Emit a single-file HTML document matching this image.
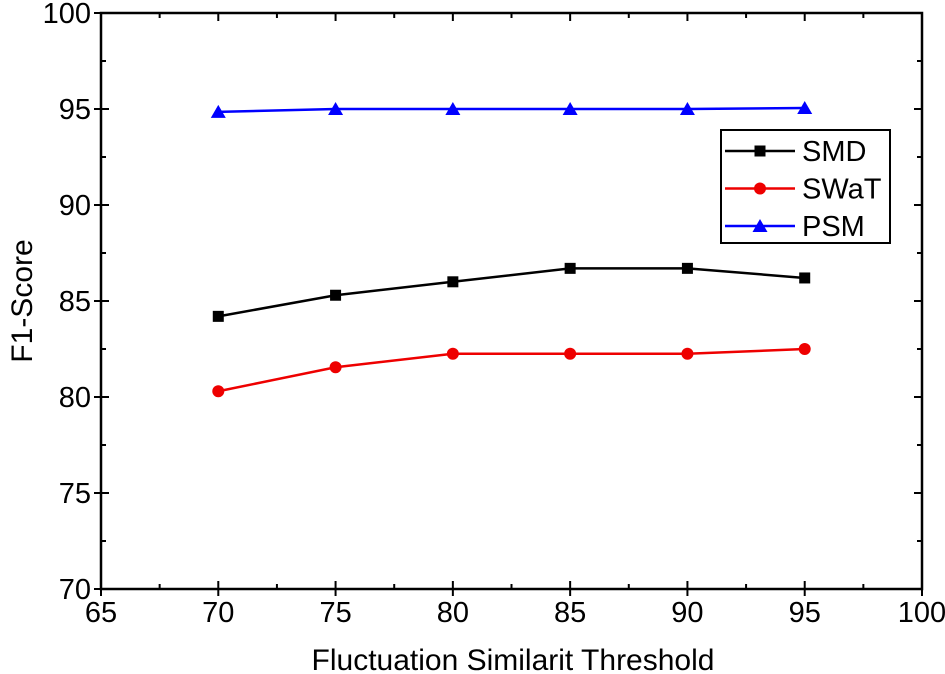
<!DOCTYPE html>
<html><head><meta charset="utf-8"><style>
body{margin:0;background:#fff}
svg{display:block;font-family:"Liberation Sans",Arial,sans-serif}
</style></head><body>
<svg id="chart" width="945" height="674" viewBox="0 0 945 674" xmlns="http://www.w3.org/2000/svg"></svg>
<script>
const categories=[70,75,80,85,90,95];
const smd=[84.2,85.3,86.0,86.7,86.7,86.2];
const swat=[80.3,81.55,82.25,82.25,82.25,82.5];
const psm=[94.85,95.0,95.0,95.0,95.0,95.05];
const xTicks=[65,70,75,80,85,90,95,100];
const yTicks=[70,75,80,85,90,95,100];
const L=101,R=922,T=13,B=589;
const xs=v=>L+(v-65)/35*(R-L);
const ys=v=>B-(v-70)/30*(B-T);
const svg=document.getElementById('chart');
const NS='http://www.w3.org/2000/svg';
function mk(tag,attrs,parent){const e=document.createElementNS(NS,tag);for(const k in attrs)e.setAttribute(k,attrs[k]);(parent||svg).appendChild(e);return e;}
let g=mk('g',{});


xTicks.forEach((v,i)=>{
  const x=xs(v);
  mk('line',{x1:x,x2:x,y1:B-8,y2:B+7,stroke:'#000','stroke-width':2},g);
  mk('line',{x1:x,x2:x,y1:T,y2:T+8,stroke:'#000','stroke-width':2},g);
  if(i<xTicks.length-1){const xm=xs(v+2.5);
    mk('line',{x1:xm,x2:xm,y1:B-5,y2:B,stroke:'#000','stroke-width':2},g);
    mk('line',{x1:xm,x2:xm,y1:T,y2:T+5,stroke:'#000','stroke-width':2},g);}
  const t=mk('text',{x:x,y:B+33,'font-size':29,'text-anchor':'middle',fill:'#000'},g);
  t.textContent=v;
  
  
});
yTicks.forEach((v,i)=>{
  const y=ys(v);
  mk('line',{x1:L-7,x2:L+8,y1:y,y2:y,stroke:'#000','stroke-width':2},g);
  mk('line',{x1:R-8,x2:R,y1:y,y2:y,stroke:'#000','stroke-width':2},g);
  if(i<yTicks.length-1){const ym=ys(v+2.5);
    mk('line',{x1:L,x2:L+5,y1:ym,y2:ym,stroke:'#000','stroke-width':2},g);
    mk('line',{x1:R-5,x2:R,y1:ym,y2:ym,stroke:'#000','stroke-width':2},g);}
  const t=mk('text',{x:L-10,y:y+10,'font-size':29,'text-anchor':'end',fill:'#000'},g);
  t.textContent=v;
  
  
});
mk('rect',{x:L,y:T,width:R-L,height:B-T,fill:'none',stroke:'#000','stroke-width':2.5},g);
let xt=mk('text',{x:513,y:670,'font-size':30,'text-anchor':'middle'});
xt.textContent='Fluctuation Similarit Threshold';


let yt=mk('text',{x:0,y:0,'font-size':30,'text-anchor':'middle',transform:'translate(32,'+((T+B)/2)+') rotate(-90)'});
yt.textContent='F1-Score';


function marker(type,x,y,c,p){
  if(type==='sq')return mk('rect',{x:x-5.5,y:y-5.5,width:11,height:11,fill:c},p);
  if(type==='ci')return mk('circle',{cx:x,cy:y,r:6,fill:c},p);
  return mk('polygon',{points:`${x},${y-7} ${x-7.5},${y+6} ${x+7.5},${y+6}`,fill:c},p);
}
const series=[['smd',smd,'#000','sq'],['swat',swat,'#e00','ci'],['psm',psm,'#00f','tr']];
series.forEach(([n,vals,c,m])=>{
  const sg=mk('g',{});
  
  
  const pl=mk('polyline',{points:vals.map((v,i)=>xs(categories[i])+','+ys(v)).join(' '),fill:'none',stroke:c,'stroke-width':2.5},sg);
  
  
  vals.forEach((v,i)=>{const mm=marker(m,xs(categories[i]),ys(v),c,sg);
    
    });
});
const lg=mk('g',{});


mk('rect',{x:721,y:130,width:169,height:113,fill:'#fff',stroke:'#000','stroke-width':2},lg);
const labels=['SMD','SWaT','PSM'];
series.forEach(([n,vals,c,m],i)=>{
  const y=151+i*37.5;
  const e=mk('g',{},lg);
  
  
  mk('line',{x1:725,x2:795,y1:y,y2:y,stroke:c,'stroke-width':2.5},e);
  marker(m,760,y,c,e);
  const t=mk('text',{x:802,y:y+10,'font-size':29},e);
  t.textContent=labels[i];
});
</script>
</body></html>
